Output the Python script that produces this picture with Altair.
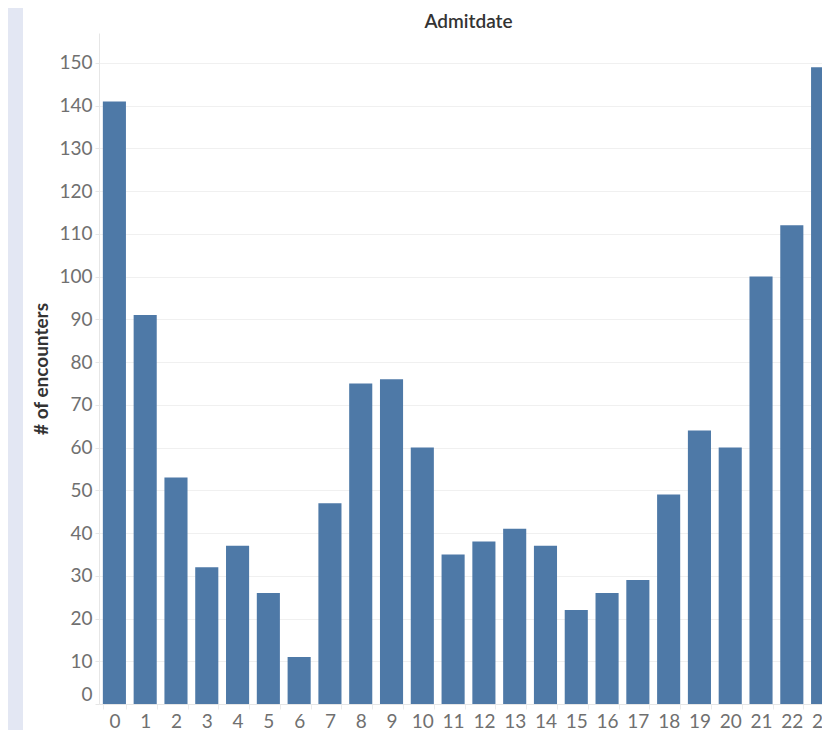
import altair as alt
import pandas as pd

hours = list(range(24))
encounters = [141, 91, 53, 32, 37, 26, 11, 47, 75, 76, 60, 35, 38, 41, 37, 22, 26, 29, 49, 64, 60, 100, 112, 149]
y_ticks = list(range(0, 160, 10))

df = pd.DataFrame({"hour": hours, "encounters": encounters})

FONT = "Lato"
LABEL_COLOR = "#707070"

bars = alt.Chart(df).mark_bar(color="#4e79a7", clip=True).encode(
    x=alt.X(
        "hour:O",
        title=None,
        scale=alt.Scale(paddingInner=0.25, paddingOuter=0.125, range=[0, 739]),
        axis=alt.Axis(
            labelAngle=0,
            labelFontSize=19,
            labelColor=LABEL_COLOR,
            labelFont=FONT,
            labelPadding=3,
            domainColor="#e6e6e6",
            tickColor="#ececec",
            tickBand="extent",
            tickSize=5,
            grid=False,
        ),
    ),
    y=alt.Y(
        "encounters:Q",
        title="# of encounters",
        scale=alt.Scale(domain=[0, 157], nice=False),
        axis=alt.Axis(
            values=y_ticks,
            labelFontSize=19,
            labelColor=LABEL_COLOR,
            labelFont=FONT,
            labelFlush=True,
            labelPadding=3,
            titleFont=FONT,
            titleFontSize=19,
            titleFontWeight="bold",
            titleColor="#333333",
            titlePadding=7,
            domainColor="#e6e6e6",
            tickColor="#e6e6e6",
            tickSize=4,
            gridColor="#f0f0f0",
        ),
    ),
)

strip = alt.Chart(pd.DataFrame({"a": [0]})).mark_rect(color="#e3e7f3", clip=False).encode(
    x=alt.value(-91), x2=alt.value(-76), y=alt.value(-25), y2=alt.value(697)
)

chart = alt.layer(strip, bars).properties(
    width=723,
    height=671,
    title=alt.TitleParams("Admitdate", font=FONT, fontSize=19, fontWeight=600, color="#333333",
                          baseline="alphabetic", offset=0, dx=8, dy=39, frame="group"),
    padding={"left": 91, "top": 25, "right": 0, "bottom": 26},
    autosize=alt.AutoSizeParams(type="none"),
).configure(background="white").configure_view(stroke=None)

chart.save("out.html", embed_options={"renderer": "svg", "actions": False})
